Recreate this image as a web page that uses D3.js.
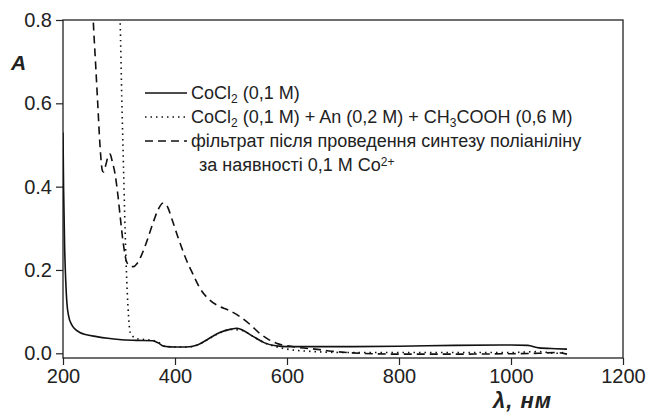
<!DOCTYPE html>
<html>
<head>
<meta charset="utf-8">
<script src="https://cdn.jsdelivr.net/npm/d3@7"></script>
<style>
  body { margin: 0; background: #fff; }
  text { font-family: "Liberation Sans", Arial, sans-serif; fill: #222; }
</style>
</head>
<body>
<div id="chart"></div>
<script>
// CoCl2 (0,1 M)
const lambdaCo = [200, 201, 203, 205, 207, 210, 215, 220, 230, 240, 260, 280, 300, 330, 360, 370, 380, 400, 420, 440, 460, 480, 500, 510, 520, 540, 560, 580, 600, 700, 800, 900, 1000, 1030, 1050, 1080, 1100];
const absCo = [0.53, 0.40, 0.25, 0.17, 0.12, 0.09, 0.07, 0.06, 0.05, 0.045, 0.04, 0.036, 0.033, 0.031, 0.03, 0.025, 0.017, 0.015, 0.015, 0.02, 0.035, 0.05, 0.058, 0.06, 0.056, 0.04, 0.025, 0.018, 0.016, 0.016, 0.017, 0.019, 0.02, 0.019, 0.013, 0.011, 0.01];

// CoCl2 + An + CH3COOH
const lambdaMix = [298, 302, 305, 308, 311, 314, 317, 320, 330, 345, 360, 370, 380, 400, 420, 440, 460, 480, 500, 520, 540, 560, 580, 600, 650, 700, 800, 900, 1000, 1050, 1080, 1100];
const absMix = [0.95, 0.8, 0.61, 0.45, 0.29, 0.17, 0.09, 0.05, 0.036, 0.033, 0.031, 0.027, 0.018, 0.015, 0.015, 0.02, 0.034, 0.049, 0.057, 0.055, 0.04, 0.025, 0.016, 0.01, 0.004, 0.002, 0.002, 0.002, 0.002, 0.004, 0.0, 0.003];

// filtrate after polyaniline synthesis
const lambdaFil = [250, 254, 258, 262, 266, 270, 272, 276, 280, 284, 288, 293, 298, 302, 308, 314, 320, 326, 332, 340, 350, 360, 370, 378, 385, 395, 405, 420, 432, 445, 462, 480, 495, 516, 535, 551, 566, 581, 600, 620, 650, 680, 730, 800, 900, 1000, 1050, 1080, 1100];
const absFil = [0.95, 0.8, 0.7, 0.6, 0.5, 0.44, 0.435, 0.45, 0.47, 0.478, 0.46, 0.43, 0.38, 0.33, 0.26, 0.218, 0.21, 0.208, 0.215, 0.235, 0.27, 0.31, 0.345, 0.36, 0.355, 0.32, 0.28, 0.225, 0.19, 0.155, 0.128, 0.112, 0.104, 0.088, 0.068, 0.048, 0.034, 0.024, 0.018, 0.014, 0.01, 0.005, 0.0, -0.002, -0.002, -0.001, 0.0, 0.002, -0.002];

const xTicks = [200, 400, 600, 800, 1000, 1200];
const yTicks = [0.0, 0.2, 0.4, 0.6, 0.8];

const width = 648, height = 412;
const margin = { top: 20, right: 25, bottom: 54, left: 63 };

const svg = d3.select("#chart").append("svg")
    .attr("width", width)
    .attr("height", height);

const x = d3.scaleLinear().domain([200, 1200]).range([margin.left, width - margin.right]);
const y = d3.scaleLinear().domain([-0.0113, 0.8]).range([height - margin.bottom, margin.top]);

svg.append("defs").append("clipPath").attr("id", "clip")
  .append("rect")
    .attr("x", margin.left).attr("y", margin.top)
    .attr("width", x(1200) - x(200)).attr("height", y(-0.0113) - y(0.8));

// frame
svg.append("rect")
    .attr("x", margin.left).attr("y", margin.top)
    .attr("width", x(1200) - x(200)).attr("height", y(-0.0113) - y(0.8))
    .attr("fill", "none").attr("stroke", "#222").attr("stroke-width", 1.3);

// x axis
const xAxisG = svg.append("g").attr("transform", `translate(0,${y(-0.0113)})`);
xAxisG.call(d3.axisBottom(x).tickValues(d3.range(200, 1201, 100)).tickSize(4).tickFormat(""));
xAxisG.call(d3.axisBottom(x).tickValues(xTicks).tickSize(7).tickPadding(4).tickFormat(d3.format("d")));
xAxisG.selectAll(".domain").remove();
xAxisG.selectAll("line").attr("stroke", "#222").attr("stroke-width", 1.2);
xAxisG.selectAll("text").style("font-size", "20px").attr("fill", "#222");

// y axis
const yAxisG = svg.append("g").attr("transform", `translate(${margin.left},0)`);
yAxisG.call(d3.axisLeft(y).tickValues(d3.range(0, 0.81, 0.1)).tickSize(4).tickFormat(""));
yAxisG.call(d3.axisLeft(y).tickValues(yTicks).tickSize(7).tickPadding(4).tickFormat(d3.format(".1f")));
yAxisG.selectAll(".domain").remove();
yAxisG.selectAll("line").attr("stroke", "#222").attr("stroke-width", 1.2);
yAxisG.selectAll("text").style("font-size", "20px").attr("fill", "#222");

// axis titles
svg.append("text").attr("x", 11).attr("y", 70)
    .style("font-size", "21px").style("font-weight", "bold").style("font-style", "italic")
    .text("A");
svg.append("text").attr("x", 493).attr("y", 408)
    .style("font-size", "22px").style("font-weight", "bold").style("font-style", "italic")
    .style("letter-spacing", "1px")
    .text("λ, нм");

// curves
const line = d3.line().x(d => x(d[0])).y(d => y(d[1])).curve(d3.curveMonotoneX);
const plot = svg.append("g").attr("clip-path", "url(#clip)");

const series = [
  { xs: lambdaCo, ys: absCo, dash: null },
  { xs: lambdaMix, ys: absMix, dash: "1.5,4" },
  { xs: lambdaFil, ys: absFil, dash: "8,5" }
];

series.forEach(s => {
  plot.append("path")
      .datum(d3.zip(s.xs, s.ys))
      .attr("fill", "none")
      .attr("stroke", "#111")
      .attr("stroke-width", 1.6)
      .attr("stroke-dasharray", s.dash)
      .attr("d", line);
});

// legend
const legend = svg.append("g");
const rows = [93, 117, 141];
series.forEach((s, i) => {
  legend.append("line")
      .attr("x1", 145).attr("x2", 187)
      .attr("y1", rows[i]).attr("y2", rows[i])
      .attr("stroke", "#111").attr("stroke-width", 1.6)
      .attr("stroke-dasharray", s.dash);
});

const fs = 18;
const sub = (t, txt) => t.append("tspan").attr("baseline-shift", "-35%").style("font-size", "12px").text(txt);
const sup = (t, txt) => t.append("tspan").attr("baseline-shift", "45%").style("font-size", "12px").text(txt);

let t = legend.append("text").attr("x", 191).attr("y", rows[0] + 6).style("font-size", fs + "px");
t.append("tspan").text("CoCl"); sub(t, "2"); t.append("tspan").text(" (0,1 M)");

t = legend.append("text").attr("x", 191).attr("y", rows[1] + 6).style("font-size", fs + "px");
t.append("tspan").text("CoCl"); sub(t, "2");
t.append("tspan").text(" (0,1 M) + An (0,2 M) + CH"); sub(t, "3");
t.append("tspan").text("COOH (0,6 M)");

legend.append("text").attr("x", 191).attr("y", rows[2] + 6).style("font-size", fs + "px")
    .text("фільтрат після проведення синтезу поліаніліну");

t = legend.append("text").attr("x", 199).attr("y", 171).style("font-size", fs + "px");
t.append("tspan").text("за наявності 0,1 M Co"); sup(t, "2+");
</script>
</body>
</html>
